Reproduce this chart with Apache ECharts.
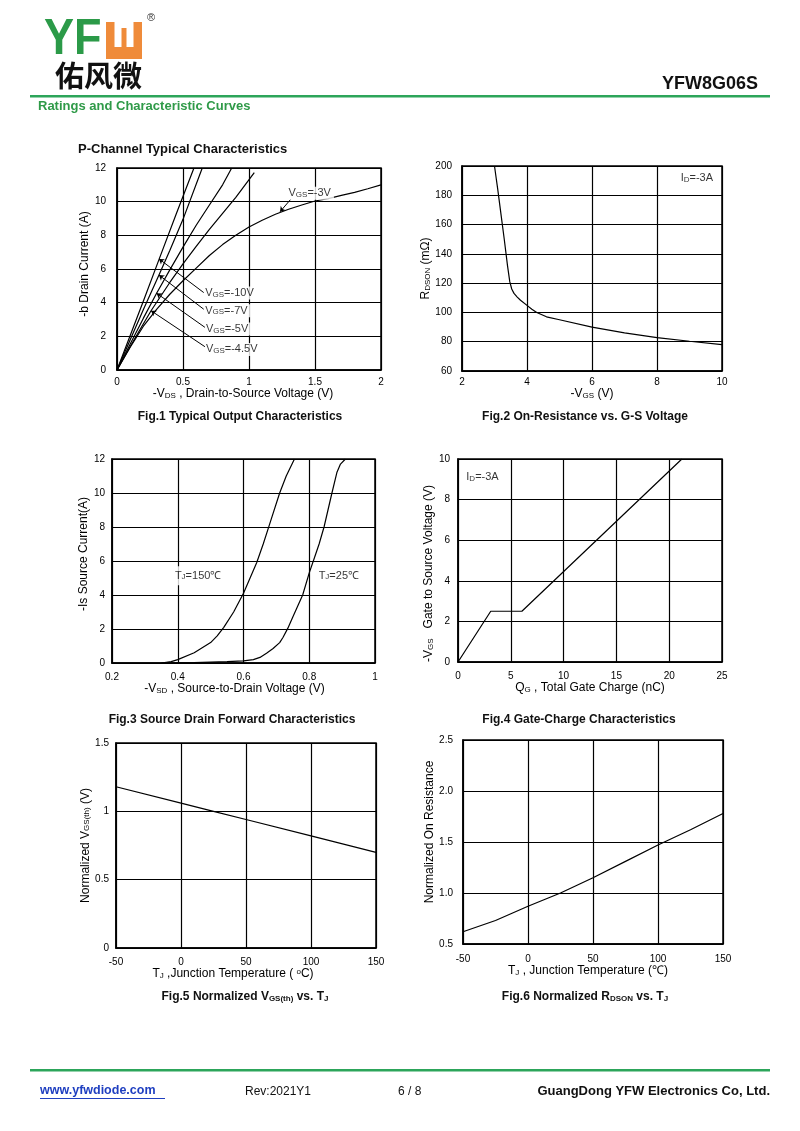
<!DOCTYPE html>
<html><head><meta charset="utf-8">
<script src="https://cdn.jsdelivr.net/npm/echarts@6/dist/echarts.min.js"></script>
<style>html,body{margin:0;padding:0;background:#fff}#c{width:800px;height:1131px}</style>
</head><body><div id="c"></div>
<script>
// ---------- data ----------
// Fig.1 output characteristics: [-VDS (V), -ID (A)]
const fig1Vgs10 = [[0,0],[0.1,2.05],[0.2,4.1],[0.32,6.6],[0.45,9.3],[0.583,12]];
const fig1Vgs7  = [[0,0],[0.1,1.8],[0.2,3.6],[0.318,5.64],[0.4,7.1],[0.5,8.95],[0.646,12]];
const fig1Vgs5  = [[0,0],[0.1,1.55],[0.2,3.08],[0.3,4.56],[0.4,5.95],[0.5,7.3],[0.6,8.6],[0.7,9.8],[0.8,11.0],[0.869,12]];
const fig1Vgs45 = [[0,0],[0.1,1.4],[0.2,2.75],[0.258,3.52],[0.4,5.2],[0.5,6.3],[0.6,7.35],[0.7,8.35],[0.8,9.3],[0.9,10.25],[1.04,11.72]];
const fig1Vgs3  = [[0,0],[0.1,1.35],[0.2,2.6],[0.3,3.6],[0.4,4.5],[0.5,5.3],[0.6,6.05],[0.7,6.8],[0.8,7.45],[0.9,8.0],[1.0,8.5],[1.1,8.9],[1.2,9.25],[1.3,9.55],[1.4,9.8],[1.5,10.04],[1.6,10.18],[1.7,10.37],[1.8,10.55],[1.9,10.77],[2.0,11.0]];
const fig1LabelText = ['-10V','-7V','-5V','-4.5V','-3V'];
const fig1LabelPos = [[0.657,4.58],[0.657,3.52],[0.662,2.44],[0.662,1.22],[1.288,10.5]];
const fig1Arrows = [[[0.657,4.60],[0.318,6.60]],[[0.657,3.61],[0.318,5.64]],[[0.667,2.53],[0.30,4.56]],[[0.667,1.38],[0.258,3.52]],[[1.316,10.14],[1.235,9.4]]];
// Fig.2 RDS(on) vs -VGS
const fig2Rds = [[3.0,200],[3.05,192],[3.1,184],[3.2,167],[3.3,150],[3.4,132],[3.47,121],[3.53,116],[3.6,113],[3.7,110.5],[3.8,108.3],[4.0,104.8],[4.15,102.2],[4.3,100],[4.6,97],[5,95],[6,90],[7,86],[8,82.8],[9,80.3],[10,78]];
// Fig.3 source-drain forward
const fig3T150 = [[0.35,0],[0.38,0.08],[0.4,0.2],[0.45,0.6],[0.5,1.2],[0.52,1.6],[0.54,2.1],[0.57,3.0],[0.6,4.1],[0.62,5.0],[0.64,5.9],[0.66,7.0],[0.68,8.2],[0.71,10.0],[0.73,11.0],[0.755,12]];
const fig3T25  = [[0.37,0],[0.45,0.03],[0.55,0.08],[0.6,0.12],[0.63,0.2],[0.65,0.33],[0.67,0.58],[0.69,0.85],[0.71,1.2],[0.72,1.5],[0.735,2.05],[0.75,2.7],[0.765,3.35],[0.78,4.0],[0.8,5.3],[0.815,6.15],[0.83,7.0],[0.845,8.0],[0.857,9.0],[0.869,10.0],[0.884,11.2],[0.895,11.7],[0.91,12]];
// Fig.4 gate charge
const fig4Vgs = [[0,0],[3.1,2.5],[6.05,2.5],[21.2,10]];
// Fig.5 normalized VGS(th)
const fig5Vth = [[-50,1.18],[0,1.06],[25,1.0],[50,0.94],[100,0.82],[150,0.70]];
// Fig.6 normalized RDS(on)
const fig6Ron = [[-50,0.62],[-25,0.73],[0,0.87],[25,1.0],[50,1.15],[75,1.31],[100,1.47],[125,1.62],[150,1.78]];

// ---------- styles ----------
const FONT = '"Liberation Sans", Arial, sans-serif';
const RICH = {
  s: {fontSize: 8, fontFamily: FONT, verticalAlign: 'bottom', color: '#000'},
  sp: {fontSize: 8, fontFamily: FONT, verticalAlign: 'top', color: '#000'}
};
const grids = [
  {left:117, top:168, width:264, height:202},
  {left:462, top:166, width:260, height:205},
  {left:112, top:459, width:263, height:204},
  {left:458, top:459, width:264, height:203},
  {left:116, top:743, width:260, height:205},
  {left:463, top:740, width:260, height:204}
].map(g => Object.assign({show:true, borderColor:'#000', borderWidth:1.5, backgroundColor:'#fff'}, g));

function ax(type, gi, min, max, interval, name, gap, margin, pad, fmt) {
  return {
    type:'value', gridIndex:gi, min, max, interval,
    name, nameLocation:'middle', nameGap:gap,
    nameTextStyle:{fontFamily:FONT, fontSize:12, color:'#000', rich:RICH, padding:pad},
    axisLine:{show:true, onZero:false, lineStyle:{color:'#000', width:1.5}},
    axisTick:{show:false},
    splitLine:{show:true, lineStyle:{color:'#000', width:1.2}},
    axisLabel:{fontFamily:FONT, fontSize:10, color:'#000', margin, formatter:fmt}
  };
}
const trim = v => String(+v.toFixed(2));
const one = v => v.toFixed(1);
const xAxes = [
  ax('x',0,0,2,0.5,'-V{s|DS} , Drain-to-Source Voltage (V)',12,7,[0,12,0,0],trim),
  ax('x',1,2,10,2,'-V{s|GS} (V)',16,6,[0,0,0,0],trim),
  ax('x',2,0.2,1,0.2,'-V{s|SD} , Source-to-Drain Voltage (V)',20,9,[0,18,0,0],trim),
  ax('x',3,0,25,5,'Q{s|G} , Total Gate Charge (nC)',20,9,[0,0,0,0],trim),
  ax('x',4,-50,150,50,'T{s|J} ,Junction Temperature ( {sp|o}C)',17,9,[0,26,0,0],trim),
  ax('x',5,-50,150,50,'T{s|J} , Junction Temperature (\u2103)',19,10,[0,10,0,0],trim)
];
const yAxes = [
  ax('y',0,0,12,2,'-b Drain Current (A)',19,11,[0,0,0,10],trim),
  ax('y',1,60,200,20,'R{s|DSON} (m\u03a9)',26,10,[0,0,0,0],trim),
  ax('y',2,0,12,2,'-Is Source Current(A)',21,7,[0,0,0,14],trim),
  ax('y',3,0,10,2,'-V{s|GS}   Gate to Source Voltage (V)',16,8,[0,26,0,0],trim),
  ax('y',4,0,1.5,0.5,'Normalized V{s|GS(th)} (V)',20,7,[0,0,0,0],trim),
  ax('y',5,0.5,2.5,0.5,'Normalized On Resistance',19,10,[0,0,0,20],one)
];

function curve(gi, data) {
  return {type:'line', xAxisIndex:gi, yAxisIndex:gi, data, showSymbol:false, symbol:'none',
    smooth:false, clip:true,
    lineStyle:{color:'#000', width:1.2}, z:3, silent:true};
}
function labels(gi, items) {
  return {type:'scatter', xAxisIndex:gi, yAxisIndex:gi, symbolSize:1, silent:true, z:10,
    itemStyle:{color:'rgba(0,0,0,0)'},
    data: items.map(it => ({value: it.pos, label:{show:true, position: it.position || 'right', distance:0,
      formatter: it.text, fontFamily:FONT, fontSize: it.size || 11, color:'#000', rich:RICH,
      backgroundColor: it.bg || 'transparent', padding: it.pad || [1,2,1,2]}}))};
}

const series = [
  curve(0, fig1Vgs10), curve(0, fig1Vgs7), curve(0, fig1Vgs5), curve(0, fig1Vgs45), curve(0, fig1Vgs3),
  curve(1, fig2Rds),
  curve(2, fig3T150), curve(2, fig3T25),
  curve(3, fig4Vgs),
  curve(4, fig5Vth),
  curve(5, fig6Ron)
];
// Fig.1 VGS labels with arrows
const f1lab = labels(0, fig1LabelText.map((t,i) => ({pos: fig1LabelPos[i], text:'V{s|GS}=' + t, bg:'#fff', pad:[1,3,1,1]})));
f1lab.markLine = {silent:true, symbol:['none','arrow'], symbolSize:5, animation:false,
  lineStyle:{color:'#000', width:1, type:'solid'}, label:{show:false},
  data: fig1Arrows.map(a => [{coord:a[0]},{coord:a[1]}])};
series.push(f1lab);
series.push(labels(1, [{pos:[8.65,191.5], text:'I{s|D}=-3A'}]));
series.push(labels(2, [{pos:[0.459,5.13], text:'T{s|J}=150\u2103', position:'inside', bg:'#fff', pad:[4,4,4,6]},
                       {pos:[0.89,5.13], text:'T{s|J}=25\u2103', position:'inside', bg:'#fff', pad:[4,4,4,4]}]));
series.push(labels(3, [{pos:[0.55,9.12], text:'I{s|D}=-3A'}]));

// ---------- page decorations ----------
const G = '#2ca55a';
const graphic = [
  {type:'text', x:44, y:40, scaleX:0.9, style:{text:'YF', font:'bold 50px '+FONT, fill:'#2b9a48', verticalAlign:'middle'}},
  {type:'rect', shape:{x:106, y:22, width:36, height:37}, style:{fill:'#ef8b3a'}},
  {type:'rect', shape:{x:114.5, y:22, width:19, height:25}, style:{fill:'#fff'}},
  {type:'rect', shape:{x:121.5, y:28, width:5, height:19}, style:{fill:'#ef8b3a'}},
  {type:'text', x:147, y:18, style:{text:'\u00ae', font:'11px '+FONT, fill:'#333', verticalAlign:'middle'}},
  {type:'text', x:55, y:76, style:{text:'佑风微', font:'bold 29px "Noto Sans CJK SC"', fill:'#111', verticalAlign:'middle'}},
  {type:'text', x:758, y:84, style:{text:'YFW8G06S', font:'bold 18px '+FONT, fill:'#111', align:'right', verticalAlign:'middle'}},
  {type:'rect', shape:{x:30, y:95, width:740, height:2.5}, style:{fill:G}},
  {type:'text', x:38, y:106, style:{text:'Ratings and Characteristic Curves', font:'bold 13px '+FONT, fill:'#2f9a48', verticalAlign:'middle'}},
  {type:'text', x:78, y:149, style:{text:'P-Channel Typical Characteristics', font:'bold 13px '+FONT, fill:'#111', verticalAlign:'middle'}},
  {type:'text', x:240, y:417, style:{text:'Fig.1 Typical Output Characteristics', font:'bold 12px '+FONT, fill:'#111', align:'center', verticalAlign:'middle'}},
  {type:'text', x:585, y:417, style:{text:'Fig.2 On-Resistance vs. G-S Voltage', font:'bold 12px '+FONT, fill:'#111', align:'center', verticalAlign:'middle'}},
  {type:'text', x:232, y:720, style:{text:'Fig.3 Source Drain Forward Characteristics', font:'bold 12px '+FONT, fill:'#111', align:'center', verticalAlign:'middle'}},
  {type:'text', x:579, y:720, style:{text:'Fig.4 Gate-Charge Characteristics', font:'bold 12px '+FONT, fill:'#111', align:'center', verticalAlign:'middle'}},
  {type:'text', x:245, y:997, style:{text:'{b|Fig.5 Normalized V}{bs|GS(th)}{b| vs. T}{bs|J}', align:'center', verticalAlign:'middle',
     rich:{b:{font:'bold 12px '+FONT, fill:'#111', verticalAlign:'bottom'}, bs:{font:'bold 8px '+FONT, fill:'#111', verticalAlign:'bottom'}}}},
  {type:'text', x:585, y:997, style:{text:'{b|Fig.6 Normalized R}{bs|DSON}{b| vs. T}{bs|J}', align:'center', verticalAlign:'middle',
     rich:{b:{font:'bold 12px '+FONT, fill:'#111', verticalAlign:'bottom'}, bs:{font:'bold 8px '+FONT, fill:'#111', verticalAlign:'bottom'}}}},
  {type:'rect', shape:{x:30, y:1069, width:740, height:2.5}, style:{fill:G}},
  {type:'text', x:40, y:1091, style:{text:'www.yfwdiode.com', font:'bold 12.5px '+FONT, fill:'#1f3fc0', verticalAlign:'middle'}},
  {type:'rect', shape:{x:40, y:1098, width:125, height:1}, style:{fill:'#1f3fc0'}},
  {type:'text', x:245, y:1092, style:{text:'Rev:2021Y1', font:'12px '+FONT, fill:'#111', verticalAlign:'middle'}},
  {type:'text', x:398, y:1092, style:{text:'6 / 8', font:'12px '+FONT, fill:'#111', verticalAlign:'middle'}},
  {type:'text', x:770, y:1091, style:{text:'GuangDong YFW Electronics Co, Ltd.', font:'bold 13px '+FONT, fill:'#111', align:'right', verticalAlign:'middle'}}
];

const chart = echarts.init(document.getElementById('c'), null, {renderer:'canvas'});
chart.setOption({
  animation:false,
  backgroundColor:'#fff',
  textStyle:{fontFamily:FONT},
  grid: grids, xAxis: xAxes, yAxis: yAxes, series, graphic
});
</script></body></html>
